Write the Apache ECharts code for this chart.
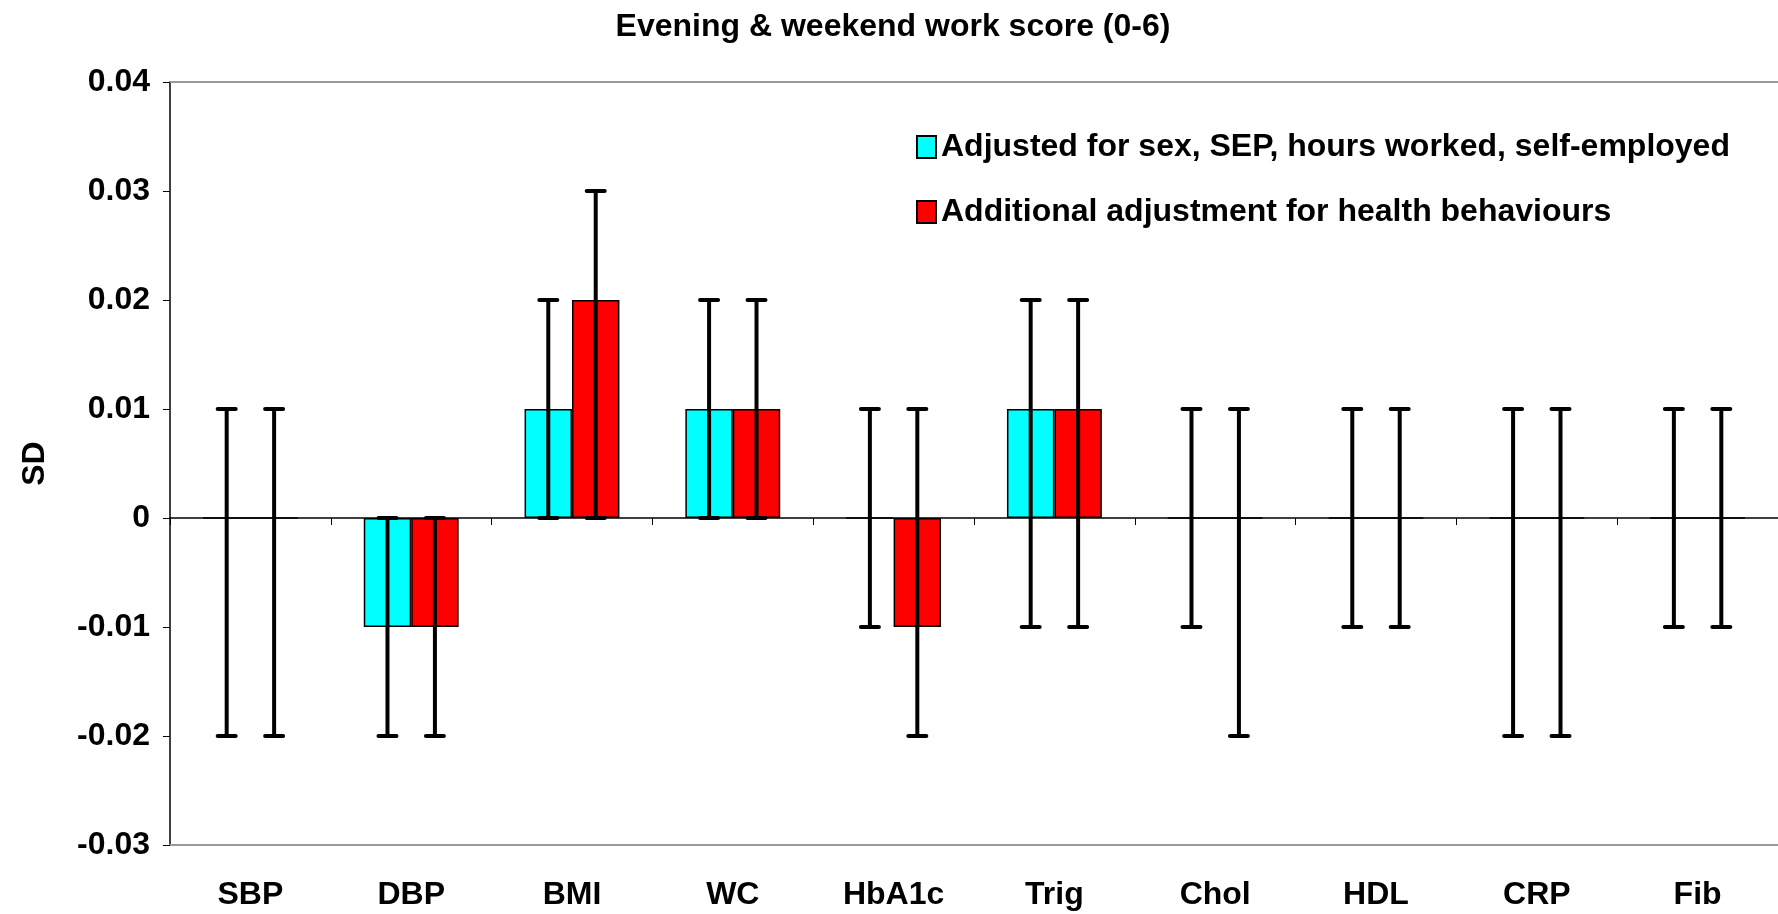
<!DOCTYPE html>
<html>
<head>
<meta charset="utf-8">
<script src="https://cdn.jsdelivr.net/npm/echarts@6/dist/echarts.min.js"></script>
<style>
  html, body { margin: 0; padding: 0; background: #fff; }
  #chart { width: 1778px; height: 914px; }
</style>
</head>
<body>
<div id="chart"></div>
<script>
// ---- data ----
const categories = ['SBP', 'DBP', 'BMI', 'WC', 'HbA1c', 'Trig', 'Chol', 'HDL', 'CRP', 'Fib'];
const seriesNames = ['Adjusted for sex, SEP, hours worked, self-employed', 'Additional adjustment for health behaviours'];
const adjValues = [0, -0.01, 0.01, 0.01, 0, 0.01, 0, 0, 0, 0];
const adjLower  = [-0.02, -0.02, 0, 0, -0.01, -0.01, -0.01, -0.01, -0.02, -0.01];
const adjUpper  = [0.01, 0, 0.02, 0.02, 0.01, 0.02, 0.01, 0.01, 0.01, 0.01];
const addValues = [0, -0.01, 0.02, 0.01, -0.01, 0.01, 0, 0, 0, 0];
const addLower  = [-0.02, -0.02, 0, 0, -0.02, -0.01, -0.02, -0.01, -0.02, -0.01];
const addUpper  = [0.01, 0, 0.03, 0.02, 0.01, 0.02, 0.01, 0.01, 0.01, 0.01];
const yTicks = { min: -0.03, max: 0.04, interval: 0.01 };

const chart = echarts.init(document.getElementById('chart'));
const FONT = '"Liberation Sans", Arial, sans-serif';
const BAR_FRAC = 0.295; // width of one bar as fraction of category band

function errData(lower, upper) {
  return categories.map((c, i) => [i, lower[i], upper[i]]);
}
function errRenderer(offsetFrac) {
  return function (params, api) {
    const i = api.value(0);
    const lo = api.coord([i, api.value(1)]);
    const hi = api.coord([i, api.value(2)]);
    const band = api.size([1, 0])[0];
    const x = lo[0] + offsetFrac * band;
    const cap = 9;
    const style = { stroke: '#000', lineWidth: 4, lineCap: 'round' };
    return {
      type: 'group',
      children: [
        { type: 'line', shape: { x1: x, y1: lo[1], x2: x, y2: hi[1] }, style: style },
        { type: 'line', shape: { x1: x - cap, y1: lo[1], x2: x + cap, y2: lo[1] }, style: style },
        { type: 'line', shape: { x1: x - cap, y1: hi[1], x2: x + cap, y2: hi[1] }, style: style }
      ]
    };
  };
}

const option = {
  backgroundColor: '#fff',
  animation: false,
  textStyle: { fontFamily: FONT },
  title: {
    text: 'Evening & weekend work score (0-6)',
    left: 888, textAlign: 'center', top: 6,
    textStyle: { fontFamily: FONT, fontSize: 32, fontWeight: 'bold', color: '#000' }
  },
  legend: {
    orient: 'vertical',
    left: 911, top: 126,
    icon: 'rect',
    itemWidth: 19, itemHeight: 22, itemGap: 33,
    data: seriesNames,
    textStyle: { fontFamily: FONT, fontSize: 32, fontWeight: 'bold', color: '#000', lineHeight: 32 }
  },
  grid: { left: 170, top: 82, width: 1614, bottom: 69, containLabel: false },
  xAxis: [
    {
      type: 'category', data: categories, position: 'bottom',
      axisLine: { onZero: true, lineStyle: { color: '#000', width: 1.5 } },
      axisTick: { show: true, length: 7, lineStyle: { color: '#000', width: 1 } },
      axisLabel: { show: false },
      splitLine: { show: false }
    },
    {
      type: 'category', data: categories, position: 'bottom',
      axisLine: { onZero: false, lineStyle: { color: '#999', width: 2 } },
      axisTick: { show: false },
      axisLabel: { margin: 34, fontFamily: FONT, fontSize: 32, fontWeight: 'bold', color: '#000' }
    },
    {
      type: 'category', data: categories, position: 'top',
      axisLine: { onZero: false, lineStyle: { color: '#999', width: 2 } },
      axisTick: { show: false },
      axisLabel: { show: false }
    }
  ],
  yAxis: {
    type: 'value',
    min: yTicks.min, max: yTicks.max, interval: yTicks.interval,
    name: 'SD', nameLocation: 'middle', nameRotate: 90, nameGap: 119,
    nameTextStyle: { fontFamily: FONT, fontSize: 32, fontWeight: 'bold', color: '#000' },
    axisLine: { show: true, onZero: false, lineStyle: { color: '#000', width: 1.5 } },
    axisTick: { show: true, length: 7, lineStyle: { color: '#000', width: 1 } },
    splitLine: { show: false },
    axisLabel: {
      margin: 20, fontFamily: FONT, fontSize: 32, fontWeight: 'bold', color: '#000',
      formatter: v => String(+v.toFixed(2))
    }
  },
  series: [
    {
      name: seriesNames[0], type: 'bar', data: adjValues,
      barWidth: (BAR_FRAC * 100) + '%', barGap: '0%',
      itemStyle: { color: '#00FFFF', borderColor: '#000', borderWidth: 1.5 }, z: 2
    },
    {
      name: seriesNames[1], type: 'bar', data: addValues,
      barWidth: (BAR_FRAC * 100) + '%', barGap: '0%',
      itemStyle: { color: '#FF0000', borderColor: '#000', borderWidth: 1.5 }, z: 2
    },
    {
      name: 'err0', type: 'custom', data: errData(adjLower, adjUpper),
      encode: { x: 0, y: [1, 2] }, renderItem: errRenderer(-BAR_FRAC / 2), z: 5
    },
    {
      name: 'err1', type: 'custom', data: errData(addLower, addUpper),
      encode: { x: 0, y: [1, 2] }, renderItem: errRenderer(BAR_FRAC / 2), z: 5
    }
  ]
};
chart.setOption(option);
</script>
</body>
</html>
